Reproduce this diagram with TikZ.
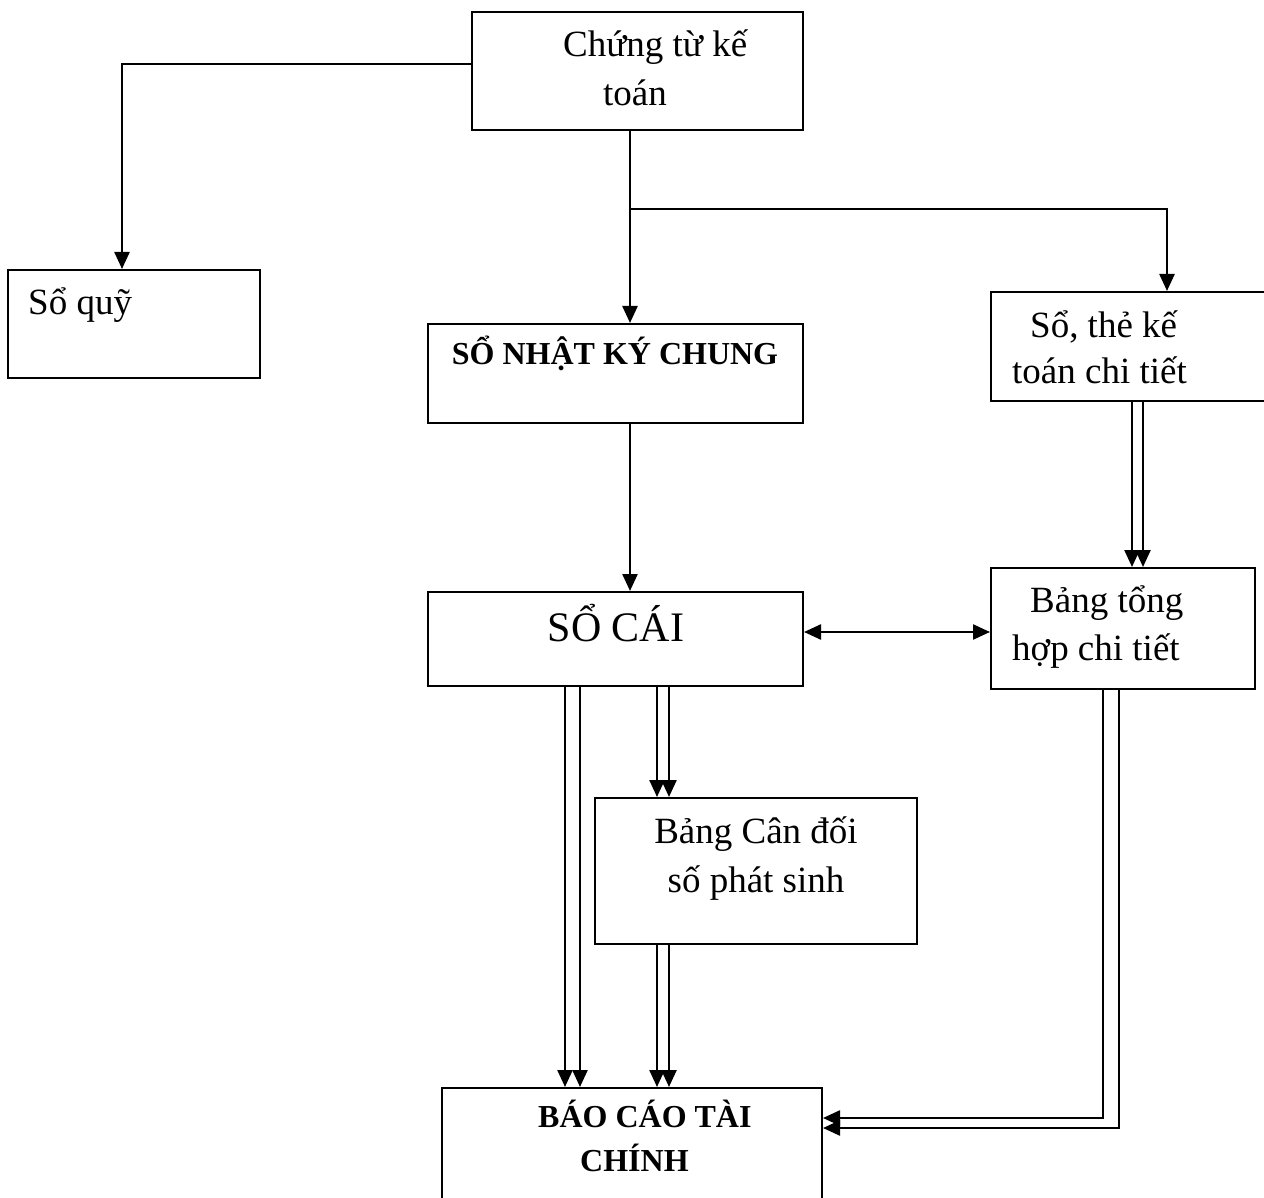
\documentclass[tikz,border=0pt]{standalone}
\usepackage{fontspec}
\setmainfont{Liberation Serif}
\usetikzlibrary{arrows.meta}

\begin{document}
\begin{tikzpicture}[x=1pt,y=-1pt]
		\tikzset{box/.style = {draw, line width=2pt, inner sep=0pt}}
		\tikzset{txt/.style = {inner sep=0pt, align=left, font=\fontsize{37}{49}\selectfont}}
		\tikzset{bold/.style = {inner sep=0pt, align=left, font=\fontsize{32}{44}\selectfont\bfseries}}
		\tikzset{edge/.style = {line width=2.4pt, -{Triangle[length=17pt,width=15pt]}}}
		
		\useasboundingbox (0,0) rectangle (1264,1198);
		\clip (0,0) rectangle (1264,1198);
		
		\node[box, minimum width=331, minimum height=118] (ctkt)  at ( 637.5,   71) {};
		\node[box, minimum width=252, minimum height=108] (soquy) at (   134,  324) {};
		\node[box, minimum width=375, minimum height=99]  (nkc)   at ( 615.5,373.5) {};
		\node[box, minimum width=289, minimum height=109] (sothe) at (1135.5,346.5) {};
		\node[box, minimum width=375, minimum height=94]  (socai) at ( 615.5,  639) {};
		\node[box, minimum width=264, minimum height=121] (bthct) at (  1123,628.5) {};
		\node[box, minimum width=322, minimum height=146] (bcd)   at (   756,  871) {};
		\node[box, minimum width=380, minimum height=172] (bctc)  at (   632, 1174) {};
		
		% base of the last line
		\node[txt, anchor=base west] (ctkt-t)  at ( 563, 106) {Chứng từ kế\\\hspace*{40pt}toán};
		\node[txt, anchor=base west] (soquy-t) at (  28, 315) {Sổ quỹ};
		\node[bold, anchor=base]     (nkc-t)   at ( 615, 365) {SỔ NHẬT KÝ CHUNG};
		\node[txt, anchor=base west, font=\fontsize{37}{46}\selectfont] (sothe-t) at (1012, 383) {\hspace*{18pt}Sổ, thẻ kế\\toán chi tiết};
		\node[txt, anchor=base, font=\fontsize{42}{50}\selectfont] (socai-t) at ( 616, 641) {SỔ CÁI};
		\node[txt, anchor=base west, font=\fontsize{37}{48}\selectfont] (bthct-t) at (1012, 660) {\hspace*{18pt}Bảng tổng\\hợp chi tiết};
		\node[txt, anchor=base, align=center] (bcd-t) at ( 756, 892) {Bảng Cân đối\\số phát sinh};
		\node[bold, anchor=base west] (bctc-t)  at ( 538,1171) {BÁO CÁO TÀI\\\hspace*{42pt}CHÍNH};
		
		\coordinate (q) at ( 122,  64);
		\coordinate (j) at ( 630, 209);
		\coordinate (r) at (1167, 209);
		
		\draw[edge] (ctkt.west |- q) -- (q) -- (q |- soquy.north);
		\draw[edge] (j |- ctkt.south) -- (j |- nkc.north);
		\draw[edge] (j) -- (r) -- (r |- sothe.north);
		\draw[edge] (j |- nkc.south) -- (j |- socai.north);
		\draw[edge, {Triangle[length=17pt,width=15pt]}-{Triangle[length=17pt,width=15pt]}] (socai.east |- 0,632) -- (bthct.west |- 0,632);
		
		\foreach \x in {1132,1143}
			\draw[edge] (sothe.south -| \x,0) -- (bthct.north -| \x,0);
		\foreach \x in {565,580}
			\draw[edge] (socai.south -| \x,0) -- (bctc.north -| \x,0);
		\foreach \x in {657,669} {
			\draw[edge] (socai.south -| \x,0) -- (bcd.north -| \x,0);
			\draw[edge] (bcd.south -| \x,0) -- (bctc.north -| \x,0);
		}
		\foreach \x/\y in {1103/1118,1119/1128}
			\draw[edge] (bthct.south -| \x,0) |- (bctc.east |- 0,\y);
\end{tikzpicture}
\end{document}
